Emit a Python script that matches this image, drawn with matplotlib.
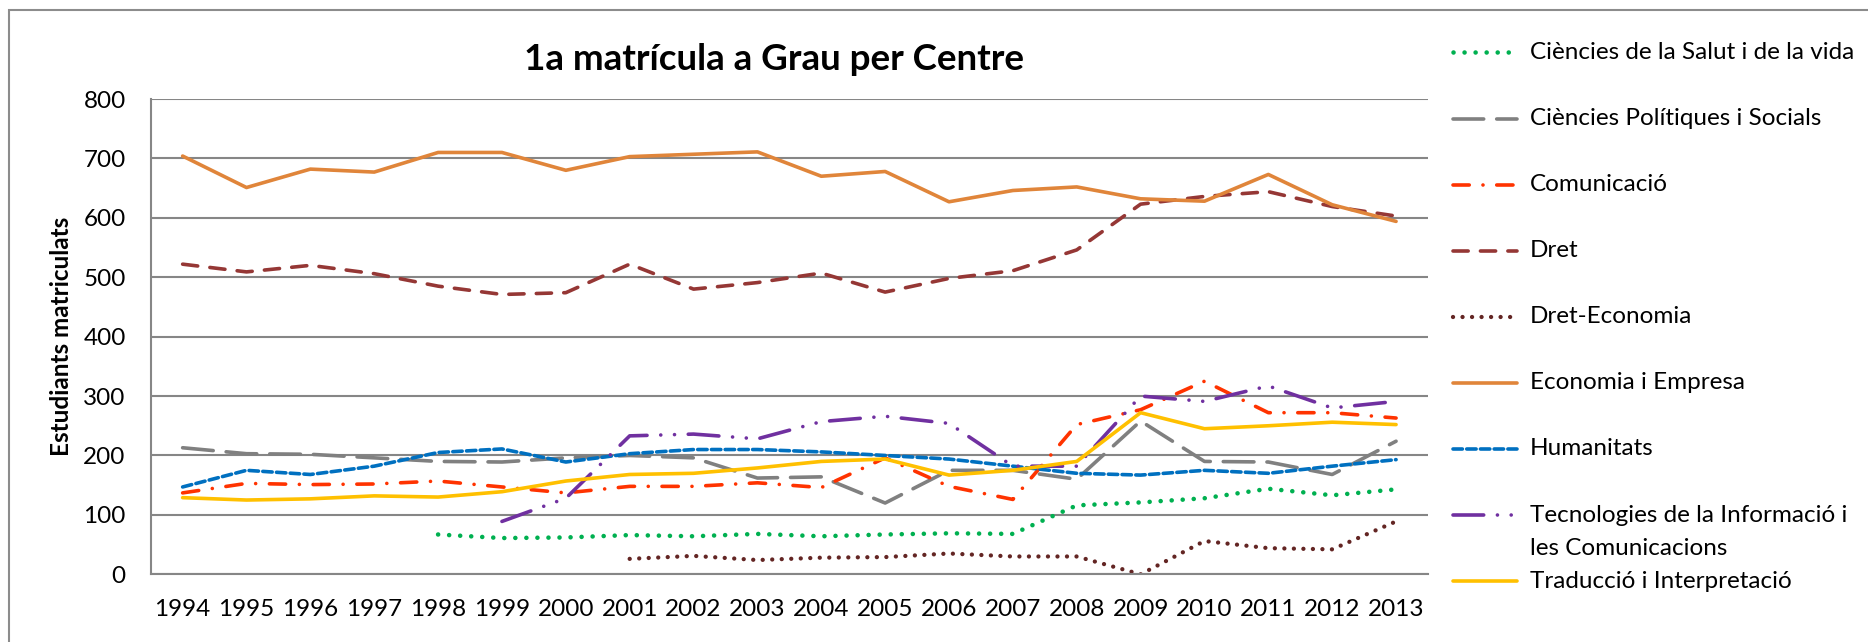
import numpy as np
import matplotlib
matplotlib.use("Agg")
import matplotlib.pyplot as plt
from matplotlib.lines import Line2D
from matplotlib.patches import Rectangle

# ---------------- data ----------------
years = list(range(1994, 2014))
nan = np.nan

salut = [nan, nan, nan, nan, 67, 61, 62, 66, 64, 68, 64, 67, 69, 68, 116, 121, 128, 144, 133, 143]
politiques = [213, 203, 202, 196, 190, 189, 196, 200, 196, 162, 164, 120, 175, 175, 160, 258, 190, 189, 168, 224]
comunicacio = [137, 153, 151, 152, 157, 147, 137, 148, 148, 154, 146, 196, 148, 126, 252, 277, 325, 272, 272, 263]
dret = [522, 509, 520, 506, 485, 471, 474, 522, 480, 491, 507, 475, 498, 511, 546, 623, 636, 644, 619, 603]
dret_eco = [nan, nan, nan, nan, nan, nan, nan, 26, 31, 24, 28, 29, 35, 30, 30, 0, 56, 44, 42, 89]
economia = [704, 651, 682, 677, 710, 710, 680, 703, 707, 711, 670, 678, 627, 646, 652, 632, 628, 673, 622, 594]
humanitats = [147, 175, 168, 182, 205, 211, 189, 203, 210, 210, 206, 200, 194, 182, 170, 167, 175, 170, 182, 193]
tecnologies = [nan, nan, nan, nan, nan, 89, 128, 233, 236, 228, 257, 266, 254, 182, 182, 300, 291, 317, 280, 291]
traduccio = [129, 125, 127, 132, 130, 139, 157, 168, 170, 179, 190, 194, 167, 175, 190, 272, 245, 250, 256, 252]

labels = ['Ciències de la Salut i de la vida', 'Ciències Polítiques i Socials', 'Comunicació',
          'Dret', 'Dret-Economia', 'Economia i Empresa', 'Humanitats',
          'Tecnologies de la Informació i\nles Comunicacions', 'Traducció i Interpretació']
series = [salut, politiques, comunicacio, dret, dret_eco, economia, humanitats, tecnologies, traduccio]

# style per series: colour, linewidth, dash pattern (None = solid)
styles = [
    ('#00B050', 3.3, (0, (0.01, 2.4))),
    ('#808080', 2.6, (0, (8.5, 3.6))),
    ('#FF3300', 2.6, (0, (4.5, 3.8, 0.01, 3.8))),
    ('#953735', 2.6, (0, (4.2, 3.4))),
    ('#632523', 3.1, (0, (0.01, 2.2))),
    ('#E0853A', 2.6, None),
    ('#0070C0', 2.6, (0, (2.6, 1.2))),
    ('#7030A0', 2.6, (0, (8.5, 3.8, 0.01, 3.8, 0.01, 3.8))),
    ('#FFC000', 2.6, None),
]

W, H = 1868, 642
plt.rcParams['font.family'] = ['Lato', 'DejaVu Sans']

fig = plt.figure(figsize=(W / 100, H / 100), dpi=100)
fig.patch.set_facecolor('white')

def fx(px):
    return px / W

def fy(py):
    return 1 - py / H

# outer chart frame
fig.add_artist(Rectangle((fx(9), fy(H + 20)), 1.2, fy(10) - fy(H + 20),
                         transform=fig.transFigure, fill=False,
                         edgecolor='#8C8C8C', linewidth=1.5))

ax = fig.add_axes([fx(150.7), fy(574.3), fx(1428) - fx(150.7), fy(99) - fy(574.3)])

x = np.arange(len(years))
for vals, (col, lw, ls) in zip(series, styles):
    ax.plot(x, vals, color=col, linewidth=lw,
            linestyle=ls if ls else '-', solid_capstyle='round',
            dash_capstyle='round', solid_joinstyle='round')

ax.set_xlim(-0.5, len(years) - 0.5)
ax.set_ylim(0, 800)
ax.set_yticks(range(0, 801, 100))
ax.set_xticks(x)
ax.set_xticklabels([str(y) for y in years])
ax.tick_params(axis='both', length=0, labelsize=17.5, colors='black')
ax.tick_params(axis='y', pad=18)
ax.tick_params(axis='x', pad=18)
ax.grid(axis='y', color='#868686', linewidth=1.5)
ax.set_axisbelow(True)
for s in ['top', 'right']:
    ax.spines[s].set_visible(False)
for s in ['left', 'bottom']:
    ax.spines[s].set_color('#868686')
    ax.spines[s].set_linewidth(1.5)

fig.text(fx(61.7), fy(336), 'Estudiants matriculats', rotation=90,
         ha='center', va='center', fontsize=17.5, fontweight='bold')
fig.text(fx(774), fy(59), '1a matrícula a Grau per Centre',
         ha='center', va='center', fontsize=26.5, fontweight='bold')

# legend
leg_y0, leg_dy = 52.4, 66.1
for i, (lab, (col, lw, ls)) in enumerate(zip(labels, styles)):
    yy = leg_y0 + i * leg_dy
    fig.add_artist(Line2D([fx(1453), fx(1517)], [fy(yy), fy(yy)],
                          transform=fig.transFigure, color=col, linewidth=lw,
                          linestyle=ls if ls else '-', dash_capstyle='round',
                          solid_capstyle='round'))
    for k, part in enumerate(lab.split('\n')):
        fig.text(fx(1530), fy(yy + k * 33), part, ha='left', va='center', fontsize=17.5)

fig.savefig('out.png', dpi=100)
